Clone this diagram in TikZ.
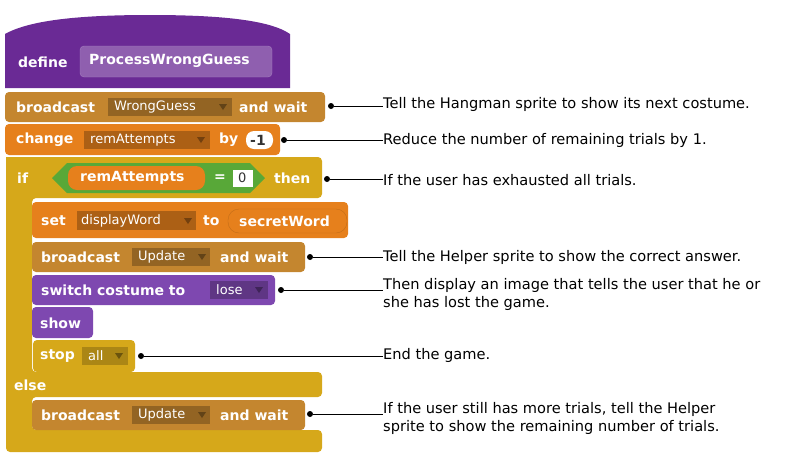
\documentclass[tikz,border=0pt]{standalone}
\usepackage{fontspec}
\setmainfont{DejaVu Sans}
\newcommand{\mytri}[3]{\fill[#3] (#1-4,#2-3) -- (#1+4,#2-3) -- (#1,#2+3) -- cycle;}
\begin{document}
\begin{tikzpicture}[x=1pt,y=-1pt,
  blk/.style={rounded corners=4pt},
  kw/.style={anchor=west,text=white,font=\fontsize{14}{15}\selectfont\bfseries,inner sep=0},
  dd/.style={anchor=west,text=white,font=\fontsize{13}{15}\selectfont,inner sep=0},
  note/.style={anchor=west,align=left,font=\fontsize{14.6}{18}\selectfont,inner sep=0},
  dot/.style={circle,fill=black,inner sep=0,minimum size=6pt},
  conn/.style={draw=black,line width=0.8pt}]
\useasboundingbox (0,0) rectangle (788,464);
\definecolor{pur}{HTML}{6A2A95}\definecolor{purL}{HTML}{7E48B0}
\definecolor{brn}{HTML}{C4862F}\definecolor{org}{HTML}{E6801C}
\definecolor{gld}{HTML}{D6A81A}\definecolor{grn}{HTML}{58A838}
% hat
\fill[pur] (5,88) -- (5,34) .. controls (30,20) and (80,15) .. (150,15) .. controls (220,15) and (270,20) .. (290,34) -- (290,88) -- cycle;
\fill[blk,pur!75!white,draw=pur!60!white] (80,46) rectangle (272,77);
\node[kw] (def) at (18,62) {define};
\node[kw] (pwg) at (89,61) {ProcessWrongGuess};
% broadcast 1
\fill[blk,brn] (5,92) rectangle (325,122);
\fill[brn!75!black] (108,98) rectangle (232,116);
\node[kw] at (16,107) {broadcast};
\node[dd] at (114,107) {WrongGuess};
\mytri{223}{107}{brn!50!black}
\node[kw] at (239,107) {and wait};
% change
\fill[blk,org] (5,124) rectangle (280,155);
\fill[org!75!black] (84,131) rectangle (210,149);
\node[kw] at (16,140) {change};
\node[dd] at (90,140) {remAttempts};
\mytri{201}{140}{org!50!black}
\node[kw] at (219,140) {by};
\fill[white,rounded corners=8pt] (246,131) rectangle (273,149);
\node[kw,text=black!80] at (250,140) {-1};
% if/else C
\fill[gld,rounded corners=4pt] (6,157) -| (322,198) -| (32,372) -| (322,397) -| (32,430) -| (322,452) -| (6,157);
\fill[grn] (52,178) -- (67,163) -- (250,163) -- (265,178) -- (250,193) -- (67,193) -- cycle;
\fill[org,rounded corners=9pt] (68,166) rectangle (205,190);
\node[kw] at (80,178) {remAttempts};
\node[kw] at (214,178) {=};
\fill[white] (233,170) rectangle (253,187);
\node[dd,text=black!80] at (238,178) {0};
\node[kw] at (17,178) {if};
\node[kw] at (274,178) {then};
\node[kw] at (14,385) {else};
% set
\fill[blk,org] (32,202) rectangle (348,238);
\fill[org!75!black] (77,211) rectangle (196,230);
\node[dd] at (81,221) {displayWord};
\node[kw] at (41,221) {set};
\mytri{188}{221}{org!50!black}
\node[kw] at (203,221) {to};
\fill[org,draw=org!85!black,rounded corners=11pt] (228,209) rectangle (347,233);
\node[kw] at (239,221) {secretWord};
% broadcast Update
\fill[blk,brn] (32,242) rectangle (305,272);
\fill[brn!75!black] (132,248) rectangle (210,266);
\node[kw] at (41,257) {broadcast};
\node[dd] at (138,257) {Update};
\mytri{202}{257}{brn!50!black}
\node[kw] at (220,257) {and wait};
% switch costume
\fill[blk,purL] (32,275) rectangle (275,305);
\fill[purL!75!black] (210,281) rectangle (268,299);
\node[kw] at (41,290) {switch costume to};
\node[dd] at (216,290) {lose};
\mytri{259}{290}{purL!50!black}
% show
\fill[blk,purL] (32,307) rectangle (93,338);
\node[kw] at (40,323) {show};
% stop
\fill[blk,gld] (33,340) rectangle (135,372);
\fill[gld!80!black] (82,347) rectangle (128,365);
\node[kw] at (40,356) {stop};
\node[dd] at (88,356) {all};
\mytri{119}{356}{gld!50!black}
% broadcast Update 2
\fill[blk,brn] (32,400) rectangle (305,430);
\fill[brn!75!black] (132,406) rectangle (210,424);
\node[kw] at (41,415) {broadcast};
\node[dd] at (138,415) {Update};
\mytri{202}{415}{brn!50!black}
\node[kw] at (220,415) {and wait};
% annotations
\node[dot] (d1) at (331,106) {};
\node[dot] (d2) at (284,140) {};
\node[dot] (d3) at (327,179) {};
\node[dot] (d4) at (310,257) {};
\node[dot] (d5) at (281,290) {};
\node[dot] (d6) at (141,356) {};
\node[dot] (d7) at (310,414) {};
\node[note] (n1) at (383,104) {Tell the Hangman sprite to show its next costume.};
\node[note] (n2) at (383,140) {Reduce the number of remaining trials by 1.};
\node[note] (n3) at (383,180) {If the user has exhausted all trials.};
\node[note] (n4) at (383,257) {Tell the Helper sprite to show the correct answer.};
\node[note,anchor=north west] (n5) at (383,278) {Then display an image that tells the user that he or\\she has lost the game.};
\node[note] (n6) at (383,355) {End the game.};
\node[note,anchor=north west] (n7) at (383,402) {If the user still has more trials, tell the Helper\\sprite to show the remaining number of trials.};
\draw[conn] (d1) -- (d1 -| n1.west);
\draw[conn] (d2) -- (d2 -| n2.west);
\draw[conn] (d3) -- (d3 -| n3.west);
\draw[conn] (d4) -- (d4 -| n4.west);
\draw[conn] (d5) -- (d5 -| n5.west);
\draw[conn] (d6) -- (d6 -| n6.west);
\draw[conn] (d7) -- (d7 -| n7.west);
\end{tikzpicture}
\end{document}
